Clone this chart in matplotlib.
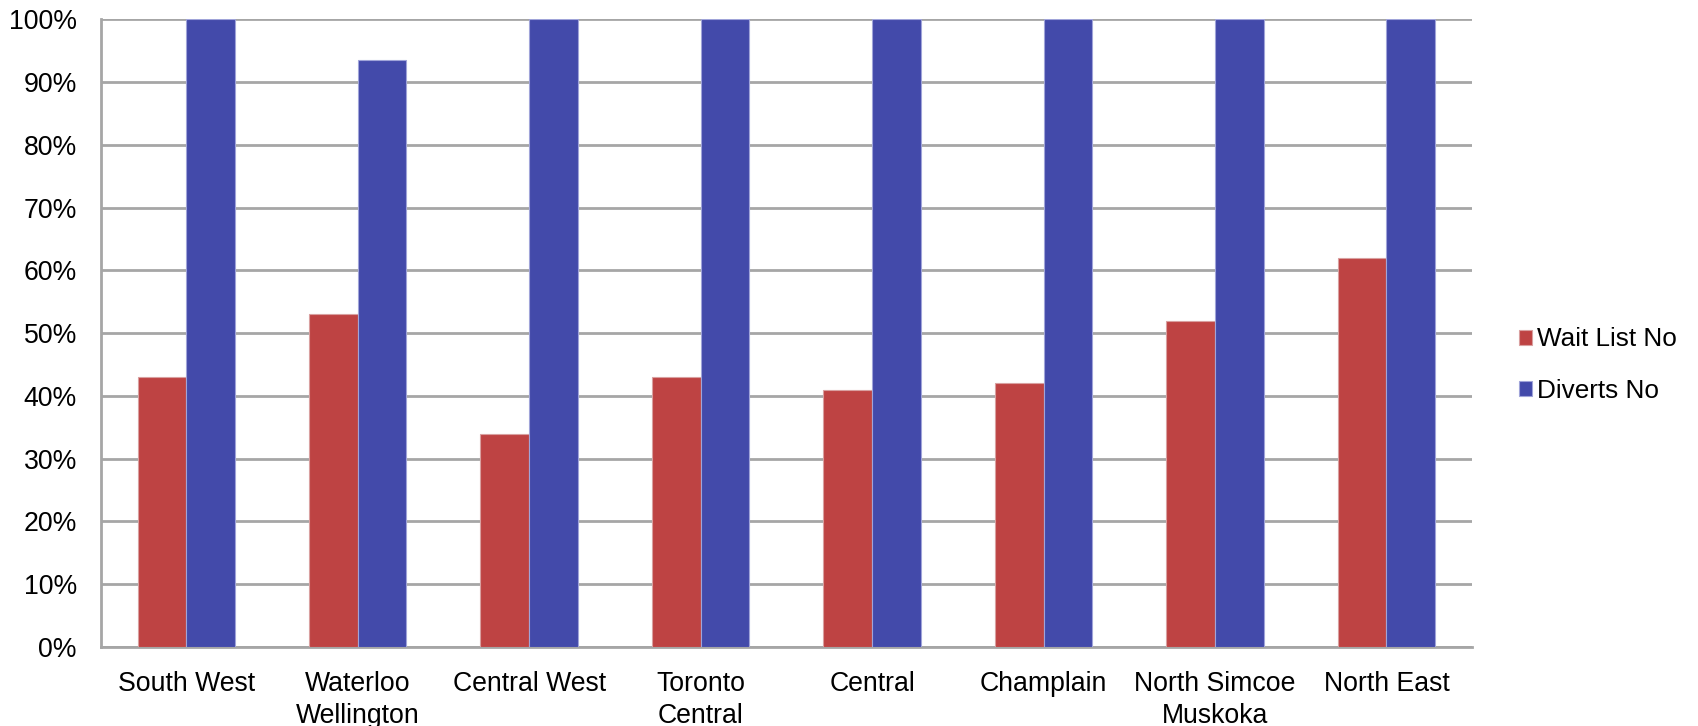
import numpy as np
import matplotlib.pyplot as plt
from matplotlib.ticker import FuncFormatter

plt.rcParams['font.family'] = ['Liberation Sans', 'DejaVu Sans']

regions = ['South West', 'Waterloo\nWellington', 'Central West', 'Toronto\nCentral',
           'Central', 'Champlain', 'North Simcoe\nMuskoka', 'North East']
wait_list_no = [43, 53, 34, 43, 41, 42, 52, 62]
diverts_no = [100, 93.6, 100, 100, 100, 100, 100, 100]

red = '#BE4343'
blue = '#434AAA'
grid_col = '#A6A6A6'

fig = plt.figure(figsize=(16.98, 7.26), dpi=100)
ax = fig.add_axes([0.0592, 0.1088, 0.8078, 0.8645])

x = np.arange(len(regions))
w = 0.284
ax.bar(x - w / 2, wait_list_no, w, color=red, edgecolor='#D9A0A0', linewidth=0.8,
       label='Wait List No', zorder=3)
ax.bar(x + w / 2, diverts_no, w, color=blue, edgecolor='#A0A4D9', linewidth=0.8,
       label='Diverts No', zorder=3)

ax.set_xlim(-0.5, len(regions) - 0.5)
ax.set_ylim(0, 100)
ax.set_yticks(np.arange(0, 101, 10))
ax.yaxis.set_major_formatter(FuncFormatter(lambda v, p: f'{v:.0f}%'))
ax.set_xticks(x)
ax.set_xticklabels(regions, linespacing=1.3)
ax.tick_params(axis='both', length=0, labelsize=19.2)
ax.tick_params(axis='y', pad=17)
ax.tick_params(axis='x', pad=17)

ax.grid(axis='y', color=grid_col, linewidth=2, zorder=0)
ax.set_axisbelow(True)
for s in ['top', 'right']:
    ax.spines[s].set_visible(False)
for s in ['left', 'bottom']:
    ax.spines[s].set_color(grid_col)
    ax.spines[s].set_linewidth(2)

fig.legend(loc='center left', bbox_to_anchor=(0.8805, 0.497), frameon=False,
           fontsize=18.8, handlelength=0.5, handleheight=0.5, handletextpad=0.2,
           labelspacing=1.05)

fig.savefig('out.png', dpi=100)
